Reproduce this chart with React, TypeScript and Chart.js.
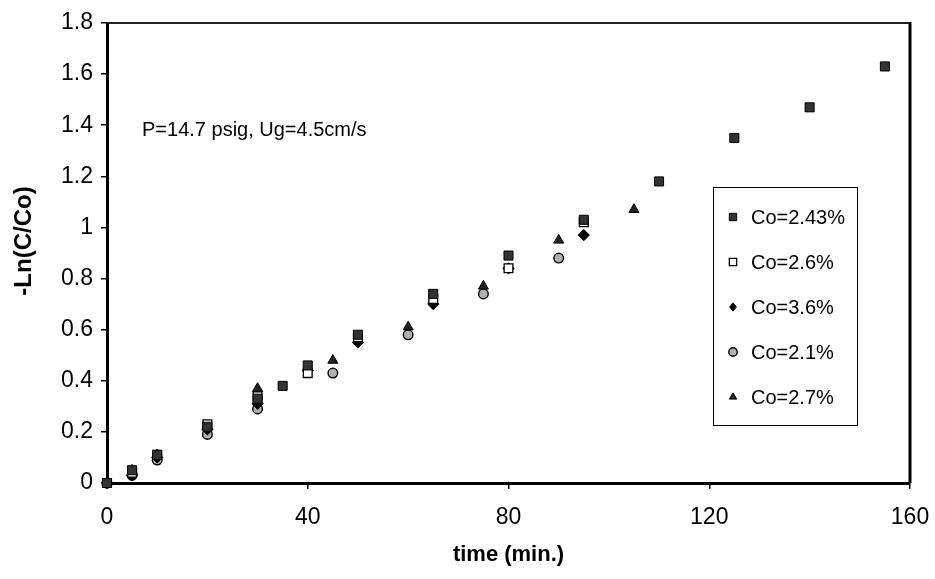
import React, { useEffect, useRef } from 'react';
import { Chart, registerables } from 'chart.js';

Chart.register(...registerables);

// ---- data ----
const timeA = [0, 5, 10, 20, 30, 35, 40, 50, 65, 80, 95, 110, 125, 140, 155];
const co243 = [0, 0.05, 0.11, 0.22, 0.33, 0.38, 0.46, 0.58, 0.74, 0.89, 1.03, 1.18, 1.35, 1.47, 1.63];

const timeB = [0, 5, 10, 20, 30, 40, 50, 65, 80, 95];
const co26 = [0, 0.04, 0.11, 0.23, 0.34, 0.43, 0.57, 0.72, 0.84, 1.02];
const co36 = [0, 0.03, 0.1, 0.21, 0.31, 0.44, 0.55, 0.7, 0.84, 0.97];

const timeC = [0, 5, 10, 20, 30, 45, 60, 75, 90];
const co21 = [0, 0.03, 0.09, 0.19, 0.29, 0.43, 0.58, 0.74, 0.88];

const timeD = [0, 5, 10, 20, 30, 45, 60, 75, 90, 105];
const co27 = [0, 0.05, 0.11, 0.22, 0.37, 0.48, 0.61, 0.77, 0.95, 1.07];

const seriesLabels = ['Co=2.43%', 'Co=2.6%', 'Co=3.6%', 'Co=2.1%', 'Co=2.7%'];
const xTicks = [0, 40, 80, 120, 160];
const yTicks = [0, 0.2, 0.4, 0.6, 0.8, 1, 1.2, 1.4, 1.6, 1.8];
const xTitle = 'time (min.)';
const yTitle = '-Ln(C/Co)';
const note = 'P=14.7 psig, Ug=4.5cm/s';

const FONT = "'Liberation Sans', Arial, Helvetica, sans-serif";

const pts = (xs: number[], ys: number[]) => xs.map((x, i) => ({ x, y: ys[i] }));

type Style = { pointStyle: string; radius: number; bg: string; border: string; bw: number };
const styles: Style[] = [
  { pointStyle: 'rect', radius: 6.4, bg: '#333333', border: '#000', bw: 1 },
  { pointStyle: 'rect', radius: 6.2, bg: '#ffffff', border: '#000', bw: 1.3 },
  { pointStyle: 'rectRot', radius: 5.6, bg: '#000000', border: '#000', bw: 1 },
  { pointStyle: 'circle', radius: 4.8, bg: '#b0b0b0', border: '#000', bw: 1.4 },
  { pointStyle: 'triangle', radius: 5.8, bg: '#222222', border: '#000', bw: 1 },
];

function drawMarker(ctx: CanvasRenderingContext2D, s: Style, x: number, y: number, r: number) {
  ctx.save();
  ctx.fillStyle = s.bg;
  ctx.strokeStyle = s.border;
  ctx.lineWidth = s.bw;
  ctx.beginPath();
  if (s.pointStyle === 'rect') {
    const h = r * Math.SQRT1_2;
    ctx.rect(x - h, y - h, 2 * h, 2 * h);
  } else if (s.pointStyle === 'rectRot') {
    ctx.moveTo(x, y - r);
    ctx.lineTo(x + r * 0.8, y);
    ctx.lineTo(x, y + r);
    ctx.lineTo(x - r * 0.8, y);
    ctx.closePath();
  } else if (s.pointStyle === 'circle') {
    ctx.arc(x, y, r, 0, Math.PI * 2);
  } else {
    ctx.moveTo(x, y - r);
    ctx.lineTo(x + r * 0.87, y + r * 0.5);
    ctx.lineTo(x - r * 0.87, y + r * 0.5);
    ctx.closePath();
  }
  ctx.fill();
  ctx.stroke();
  ctx.restore();
}

const decorPlugin = {
  id: 'decor',
  beforeDatasetsDraw(chart: any) {
    const { ctx, chartArea } = chart;
    const { left, right, top, bottom } = chartArea;
    ctx.save();
    ctx.strokeStyle = '#222';
    ctx.lineWidth = 2;
    ctx.beginPath();
    ctx.moveTo(left, top);
    ctx.lineTo(right, top);
    ctx.stroke();
    ctx.lineWidth = 3;
    ctx.strokeStyle = '#000';
    ctx.beginPath();
    ctx.moveTo(right, top - 1);
    ctx.lineTo(right, bottom);
    ctx.stroke();
    ctx.restore();
  },
  afterDraw(chart: any) {
    const { ctx } = chart;
    ctx.save();
    // annotation
    ctx.fillStyle = '#000';
    ctx.font = `20px ${FONT}`;
    ctx.textAlign = 'left';
    ctx.textBaseline = 'middle';
    ctx.fillText(note, 142, 130);

    // y title
    ctx.save();
    ctx.translate(24, 241);
    ctx.rotate(-Math.PI / 2);
    ctx.font = `bold 24px ${FONT}`;
    ctx.textAlign = 'center';
    ctx.textBaseline = 'middle';
    ctx.fillText(yTitle, 0, 0);
    ctx.restore();

    // legend
    const lx = 713, ly = 187, lw = 144, lh = 238;
    ctx.fillStyle = '#fff';
    ctx.fillRect(lx, ly, lw, lh);
    ctx.strokeStyle = '#000';
    ctx.lineWidth = 1;
    ctx.strokeRect(lx + 0.5, ly + 0.5, lw, lh);
    ctx.font = `20px ${FONT}`;
    ctx.textBaseline = 'middle';
    ctx.textAlign = 'left';
    seriesLabels.forEach((lab, i) => {
      const y = 217 + i * 45;
      drawMarker(ctx, styles[i], 733, y, i === 0 || i === 1 ? 5.2 : 4.2);
      ctx.fillStyle = '#000';
      ctx.fillText(lab, 751, y + 1);
    });
    ctx.restore();
  },
};

export default function App() {
  const ref = useRef<HTMLCanvasElement | null>(null);

  useEffect(() => {
    if (!ref.current) return;
    const series = [pts(timeA, co243), pts(timeB, co26), pts(timeB, co36), pts(timeC, co21), pts(timeD, co27)];
    const chart = new Chart(ref.current, {
      type: 'scatter',
      data: {
        datasets: series.map((d, i) => ({
          label: seriesLabels[i],
          data: d,
          showLine: false,
          clip: false as any,
          pointStyle: styles[i].pointStyle as any,
          pointRadius: styles[i].radius,
          pointBackgroundColor: styles[i].bg,
          pointBorderColor: styles[i].border,
          pointBorderWidth: styles[i].bw,
        })),
      },
      options: {
        responsive: false,
        animation: false,
        layout: { padding: { top: 23, right: 25, left: 0, bottom: 0 } },
        plugins: {
          legend: { display: false },
          tooltip: { enabled: false },
        },
        scales: {
          x: {
            type: 'linear',
            min: 0,
            max: 160,
            afterBuildTicks: (s: any) => {
              s.ticks = xTicks.map((v) => ({ value: v }));
            },
            afterFit: (s: any) => {
              s.height = 96;
              s.paddingLeft = 0;
              s.paddingRight = 0;
            },
            border: { display: true, color: '#000', width: 3 },
            grid: { drawOnChartArea: false, drawTicks: true, tickLength: 6, color: '#000', lineWidth: 1.5 },
            ticks: {
              color: '#000',
              font: { family: FONT, size: 23 },
              padding: 15,
              maxRotation: 0,
              callback: (v: any) => String(v),
            },
            title: {
              display: true,
              text: xTitle,
              color: '#000',
              font: { family: FONT, size: 22, weight: 'bold' },
              padding: { top: 0, bottom: 11 },
            },
          },
          y: {
            type: 'linear',
            min: 0,
            max: 1.8,
            afterBuildTicks: (s: any) => {
              s.ticks = yTicks.map((v) => ({ value: v }));
            },
            afterFit: (s: any) => {
              s.width = 107;
              s.paddingTop = 0;
              s.paddingBottom = 0;
            },
            border: { display: true, color: '#000', width: 3 },
            grid: { drawOnChartArea: false, drawTicks: true, tickLength: 6, color: '#000', lineWidth: 1.5 },
            ticks: {
              color: '#000',
              font: { family: FONT, size: 23 },
              padding: 8,
              callback: (v: any) => String(Number(Number(v).toFixed(1))),
            },
          },
        },
      },
      plugins: [decorPlugin],
    });
    return () => chart.destroy();
  }, []);

  return (
    <div style={{ position: 'absolute', left: 0, top: 0, width: 935, height: 579, background: '#fff' }}>
      <canvas ref={ref} width={935} height={579} style={{ display: 'block' }} />
    </div>
  );
}
